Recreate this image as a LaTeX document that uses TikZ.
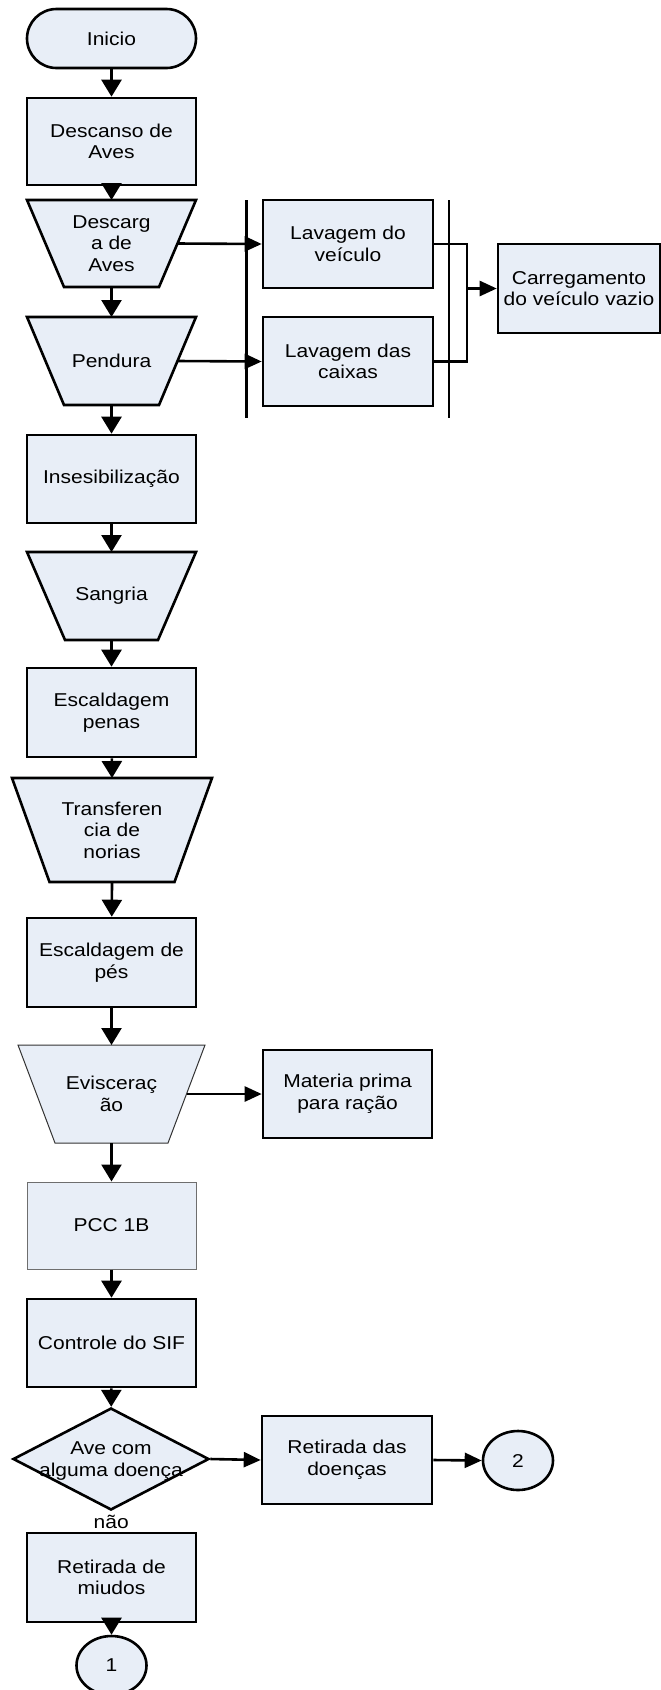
\documentclass[tikz,border=0pt]{standalone}
\usepackage{fontspec}
\setmainfont{Liberation Sans}[FakeStretch=1.13]
\usetikzlibrary{arrows.meta,shapes.geometric}
\definecolor{boxfill}{RGB}{232,238,247}
\definecolor{thinedge}{RGB}{110,110,110}

% Inverted trapezium (wide side on top) with a text node and side coordinates.
% #1 name, #2 centre x, #3 centre y, #4 top width, #5 height, #6 inset of the
% bottom corners, #7 extra draw options, #8 text
\newcommand\trapstep[8]{%
  \draw[trapline,#7] (#2-#4/2,#3-#5/2) -- (#2+#4/2,#3-#5/2)
    -- (#2+#4/2-#6,#3+#5/2) -- (#2-#4/2+#6,#3+#5/2) -- cycle;
  \node (#1) at (#2,#3) {#8};
  \coordinate (#1-n) at (#2,#3-#5/2);
  \coordinate (#1-s) at (#2,#3+#5/2);
  \coordinate (#1-e) at (#2+#4/2-#6/2,#3);
}

\begin{document}
\begin{tikzpicture}[x=1pt,y=-1pt,
  every node/.style={font=\fontsize{18.6}{21.6}\selectfont, align=center, inner sep=0pt},
  proc/.style={rectangle, draw, line width=2.6pt, fill=boxfill,
    minimum width=169pt, minimum height=88pt},
  term/.style={rectangle, draw, line width=2.6pt, fill=boxfill, rounded corners=29.5pt,
    minimum width=169pt, minimum height=59pt},
  trapline/.style={draw, line width=2.6pt, fill=boxfill, line join=miter},
  decision/.style={diamond, draw, line width=2.6pt, fill=boxfill,
    minimum width=196pt, minimum height=102pt},
  connector/.style={ellipse, draw, line width=2.6pt, fill=boxfill,
    minimum width=70pt, minimum height=59pt},
  flow/.style={line width=2.6pt, line join=miter},
  down/.style={flow, -{Triangle[length=17pt,width=20pt]}},
  right/.style={flow, -{Triangle[length=17pt,width=15pt]}},
  bar/.style={line width=2.7pt}
]
\useasboundingbox (0,0) rectangle (661,1690);

% main column
\node[term] (inicio) at (111.5,38.5) {Inicio};
\node[proc, minimum height=87pt] (descanso) at (111.5,141.5) {Descanso de\\Aves};
\trapstep{descarga}{111.5}{243.5}{169}{87}{37}{}{Descarg\\a de\\Aves}
\trapstep{pendura}{111.5}{361}{169}{88}{37}{}{Pendura}
\node[proc] (insens) at (111.5,479) {Insesibilização};
\trapstep{sangria}{111.5}{596}{169}{88}{38}{}{Sangria}
\node[proc, minimum height=89pt] (penas) at (111.5,712.5) {Escaldagem\\penas};
\trapstep{transf}{112}{830}{200}{104}{37.5}{}{Transferen\\cia de\\norias}
\node[proc, minimum height=89pt] (pes) at (111.5,962.5) {Escaldagem de\\pés};
\trapstep{visc}{111.5}{1094}{187}{98}{37}{line width=1pt, draw=black!80}{Evisceraç\\ão}
\node[proc, minimum height=87pt, line width=1pt, draw=thinedge] (pcc) at (111.5,1225.5) {PCC 1B};
\node[proc] (sif) at (111.5,1343) {Controle do SIF};
\node[decision] (dec) at (111,1459) {};
\node (dectext) at (111,1461) {Ave com\\alguma doença};
\node[proc, minimum height=89pt] (miudos) at (111.5,1577.5) {Retirada de\\miudos};
\node[connector] (c1) at (111.5,1665.5) {1};

% side branches
\node[proc, minimum width=170pt] (lveic) at (348,244) {Lavagem do\\veículo};
\node[proc, minimum width=170pt, minimum height=89pt] (lcaix) at (348,361.5) {Lavagem das\\caixas};
\node[proc, minimum width=162pt, minimum height=89pt] (carr) at (579,288.5) {Carregamento\\do veículo vazio};
\node[proc] (materia) at (347.5,1094) {Materia prima\\para ração};
\node[proc, minimum width=170pt] (doencas) at (347,1460) {Retirada das\\doenças};
\node[connector] (c2) at (518,1460.5) {2};

% parallel bars around the washing steps
\coordinate (b1t) at (246.5,200);
\coordinate (b1b) at (246.5,418);
\coordinate (b2t) at (449,200);
\coordinate (b2b) at (449,418);
\draw[bar] (b1t) -- (b1b);
\draw[bar] (b2t) -- (b2b);

% main flow
\draw[down] (inicio) -- (descanso);
\draw[down] (descanso) -- (descarga-n);
\draw[down] (descarga-s) -- (pendura-n);
\draw[down] (pendura-s) -- (insens);
\draw[down] (insens) -- (sangria-n);
\draw[down] (sangria-s) -- (penas);
\draw[down] (penas) -- (transf-n);
\draw[down] (transf-s) -- (pes);
\draw[down] (pes) -- (visc-n);
\draw[down] (visc-s) -- (pcc);
\draw[down] (pcc) -- (sif);
\draw[down] (sif) -- (dec);
\draw[down] (dec.south) -- node[fill=white, inner xsep=1pt, inner ysep=3.5pt] {não} (miudos.north);
\draw[down] (miudos) -- (c1);

% branches
\draw[right] (descarga-e) -- (lveic.west);
\draw[right] (pendura-e) -- (lcaix.west);
\coordinate (join) at (467,288.5);
\draw[flow] (lveic.east) -| (join) |- (lcaix.east);
\draw[right] (join) -- (carr.west);
\draw[right] (visc-e) -- (materia.west);
\draw[right] (dec.east) -- (doencas.west);
\draw[right] (doencas.east) -- (c2.west);
\end{tikzpicture}
\end{document}
